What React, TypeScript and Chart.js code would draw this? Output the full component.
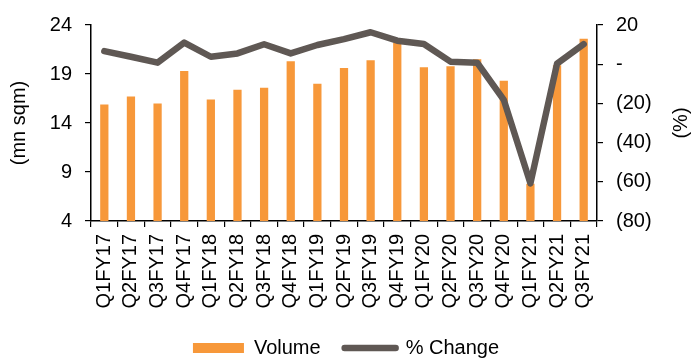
import React, { useEffect, useRef } from "react";
import { Chart, registerables } from "chart.js";

Chart.register(...registerables);

const quarters = [
  "Q1FY17", "Q2FY17", "Q3FY17", "Q4FY17",
  "Q1FY18", "Q2FY18", "Q3FY18", "Q4FY18",
  "Q1FY19", "Q2FY19", "Q3FY19", "Q4FY19",
  "Q1FY20", "Q2FY20", "Q3FY20", "Q4FY20",
  "Q1FY21", "Q2FY21", "Q3FY21",
];

// Volume in million sq m
const volume = [
  15.9, 16.7, 16.0, 19.3,
  16.4, 17.4, 17.6, 20.3,
  18.0, 19.6, 20.4, 22.2,
  19.7, 19.8, 20.5, 18.3,
  7.8, 19.9, 22.6,
];

// YoY % change
const pctChange = [
  6.7, 3.8, 0.8, 11.0,
  3.8, 5.5, 10.2, 5.5,
  9.8, 12.8, 16.3, 12.0,
  10.3, 1.3, 0.8, -18.2,
  -60.8, 0.3, 10.2,
];

const ORANGE = "#f7983a";
const GREY = "#5f5854";
const FONT = "'Liberation Sans', Arial, sans-serif";
const FONT_SIZE = 20;

// Right-hand axis title, drawn reading bottom-to-top like the left one
const rightTitle = {
  id: "rightTitle",
  afterDraw(chart: any) {
    const { ctx, chartArea } = chart;
    ctx.save();
    ctx.font = `${FONT_SIZE}px ${FONT}`;
    ctx.fillStyle = "#000";
    ctx.textAlign = "center";
    ctx.textBaseline = "middle";
    ctx.translate(681, (chartArea.top + chartArea.bottom) / 2);
    ctx.rotate(-Math.PI / 2);
    ctx.fillText("(%)", 0, 0);
    ctx.restore();
  },
};

export default function App() {
  const ref = useRef<HTMLCanvasElement>(null);

  useEffect(() => {
    if (!ref.current) return;
    const font = { family: FONT, size: FONT_SIZE };
    const chart = new Chart(ref.current, {
      type: "bar",
      data: {
        labels: quarters,
        datasets: [
          {
            type: "line",
            label: "% Change",
            data: pctChange,
            yAxisID: "y1",
            borderColor: GREY,
            backgroundColor: GREY,
            borderWidth: 6.5,
            borderJoinStyle: "round",
            borderCapStyle: "round",
            pointRadius: 0,
            tension: 0,
            order: 1,
          } as any,
          {
            type: "bar",
            label: "Volume",
            data: volume,
            yAxisID: "y",
            backgroundColor: ORANGE,
            borderWidth: 0,
            categoryPercentage: 1,
            barPercentage: 0.31,
            order: 2,
          },
        ],
      },
      options: {
        responsive: false,
        animation: false,
        layout: { padding: { top: 20, left: 0, right: 0, bottom: 0 } },
        plugins: {
          tooltip: { enabled: false },
          legend: {
            position: "bottom",
            maxHeight: 47,
            labels: {
              font,
              color: "#000",
              usePointStyle: true,
              pointStyleWidth: 51,
              boxHeight: 10,
              padding: 24,
              generateLabels: () => [
                {
                  text: "Volume",
                  fillStyle: ORANGE,
                  strokeStyle: ORANGE,
                  lineWidth: 0,
                  pointStyle: "rect",
                  datasetIndex: 1,
                  hidden: false,
                  fontColor: "#000",
                },
                {
                  text: "% Change",
                  fillStyle: GREY,
                  strokeStyle: GREY,
                  lineWidth: 6.5,
                  lineCap: "round",
                  pointStyle: "line",
                  datasetIndex: 0,
                  hidden: false,
                  fontColor: "#000",
                },
              ] as any,
            },
          },
        },
        scales: {
          x: {
            offset: true,
            grid: {
              display: true,
              drawOnChartArea: false,
              drawTicks: true,
              tickLength: 6,
              color: "#000",
              lineWidth: 1.2,
              offset: true,
            },
            border: { display: true, color: "#000", width: 1.5 },
            ticks: {
              font,
              color: "#000",
              autoSkip: false,
              maxRotation: 90,
              minRotation: 90,
              padding: 7,
            },
            afterFit: (s: any) => {
              s.height = 93;
            },
          },
          y: {
            position: "left",
            min: 4,
            max: 24,
            grid: {
              display: true,
              drawOnChartArea: false,
              drawTicks: true,
              tickLength: 6,
              color: "#000",
              lineWidth: 1.2,
            },
            border: { display: true, color: "#000", width: 1.5 },
            ticks: { font, color: "#000", stepSize: 5, padding: 13 },
            title: {
              display: true,
              text: "(mn sqm)",
              font,
              color: "#000",
              padding: { top: 7, bottom: 0 },
            },
            afterFit: (s: any) => {
              s.width = 91;
            },
          },
          y1: {
            position: "right",
            min: -80,
            max: 20,
            grid: {
              display: true,
              drawOnChartArea: false,
              drawTicks: true,
              tickLength: 6,
              color: "#000",
              lineWidth: 1.2,
            },
            border: { display: true, color: "#000", width: 1.5 },
            ticks: {
              font,
              color: "#000",
              stepSize: 20,
              padding: 13,
              callback: (v: any) =>
                v === 0 ? "-" : v < 0 ? `(${-v})` : `${v}`,
            },
            afterFit: (s: any) => {
              s.width = 95;
            },
          },
        },
      },
      plugins: [rightTitle],
    });
    return () => chart.destroy();
  }, []);

  return (
    <div style={{ position: "absolute", left: 0, top: 0, width: 692, height: 361, background: "#fff" }}>
      <canvas ref={ref} width={692} height={361} />
    </div>
  );
}
